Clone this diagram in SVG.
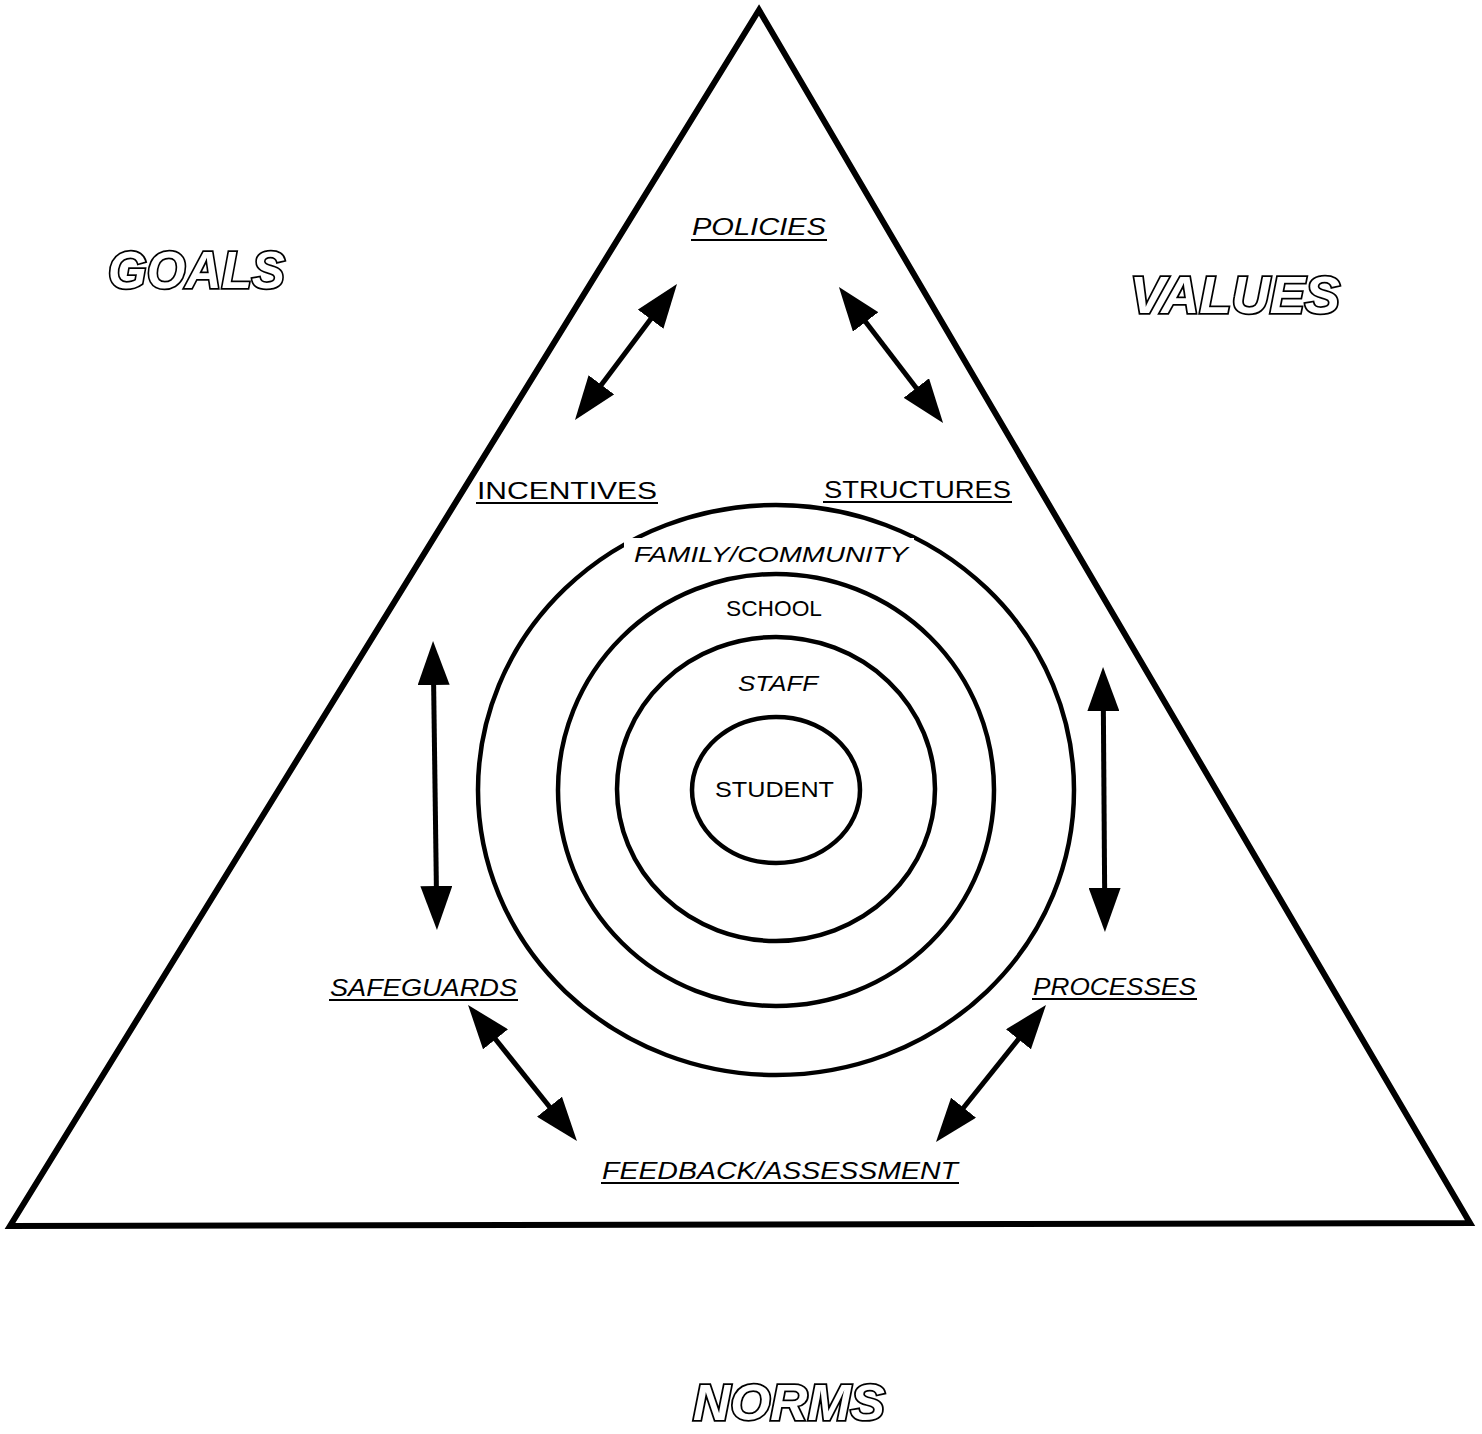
<svg xmlns="http://www.w3.org/2000/svg" width="1482" height="1434" viewBox="0 0 1482 1434">
<style>
.frame{fill:none;stroke:#000;stroke-width:6;stroke-linejoin:miter}
.ring{fill:none;stroke:#000;stroke-width:4.5}
.conn{stroke:#000;stroke-width:5;fill:none;marker-start:url(#head);marker-end:url(#head)}
.lbl{font-family:"Liberation Sans","DejaVu Sans",sans-serif;font-size:24px;fill:#000}
.slant{font-style:italic}
.ul{stroke:#000;stroke-width:2.2}
.big{font-family:"Liberation Sans","DejaVu Sans",sans-serif;font-size:52px;font-weight:bold;font-style:italic;fill:#fff;stroke:#000;stroke-width:3.5;paint-order:stroke}
.ring-lbl{font-family:"Liberation Sans","DejaVu Sans",sans-serif;font-size:22px;fill:#000}
</style>
<defs>
<marker id="head" markerUnits="userSpaceOnUse" markerWidth="46" markerHeight="32" viewBox="0 0 46 32" refX="10" refY="16" orient="auto-start-reverse">
<path d="M0,0 L44,16 L0,32 Z" fill="#000"/>
</marker>
</defs>
<rect width="1482" height="1434" fill="#fff"/>

<g id="triangle">
<path class="frame" d="M759,10 L1470,1223 L10,1226 Z"/>
</g>

<g id="outer-labels">
<text class="big" x="108" y="288" textLength="177" lengthAdjust="spacingAndGlyphs">GOALS</text>
<text class="big" x="1130" y="313" textLength="210" lengthAdjust="spacingAndGlyphs">VALUES</text>
<text class="big" x="693" y="1420" style="font-size:50px" textLength="192" lengthAdjust="spacingAndGlyphs">NORMS</text>
</g>

<g id="rings">
<ellipse class="ring" cx="776" cy="790" rx="298" ry="285"/>
<rect x="624" y="538" width="290" height="30" fill="#fff"/>
<ellipse class="ring" cx="776" cy="790" rx="218" ry="216"/>
<ellipse class="ring" cx="776" cy="789" rx="159" ry="152"/>
<ellipse class="ring" cx="776" cy="790" rx="84" ry="73"/>
</g>

<g id="node-family">
<text class="ring-lbl slant" x="634" y="562" textLength="274" lengthAdjust="spacingAndGlyphs">FAMILY/COMMUNITY</text>
</g>
<g id="node-school">
<text class="ring-lbl" x="726" y="616" textLength="96" lengthAdjust="spacingAndGlyphs">SCHOOL</text>
</g>
<g id="node-staff">
<text class="ring-lbl slant" x="738" y="691" textLength="80" lengthAdjust="spacingAndGlyphs">STAFF</text>
</g>
<g id="node-student">
<text class="ring-lbl" x="715" y="797" textLength="119" lengthAdjust="spacingAndGlyphs">STUDENT</text>
</g>

<g id="node-policies">
<text class="lbl slant" x="692" y="235" textLength="134" lengthAdjust="spacingAndGlyphs">POLICIES</text>
<line class="ul" x1="691" y1="240" x2="827" y2="240"/>
</g>
<g id="node-incentives">
<text class="lbl" x="477" y="499" textLength="180" lengthAdjust="spacingAndGlyphs">INCENTIVES</text>
<line class="ul" x1="476" y1="503" x2="658" y2="503"/>
</g>
<g id="node-structures">
<text class="lbl" x="824" y="498" textLength="187" lengthAdjust="spacingAndGlyphs">STRUCTURES</text>
<line class="ul" x1="823" y1="502" x2="1012" y2="502"/>
</g>
<g id="node-safeguards">
<text class="lbl slant" x="330" y="996" textLength="187" lengthAdjust="spacingAndGlyphs">SAFEGUARDS</text>
<line class="ul" x1="329" y1="1000" x2="518" y2="1000"/>
</g>
<g id="node-processes">
<text class="lbl slant" x="1033" y="995" textLength="163" lengthAdjust="spacingAndGlyphs">PROCESSES</text>
<line class="ul" x1="1032" y1="999" x2="1197" y2="999"/>
</g>
<g id="node-feedback">
<text class="lbl slant" x="602" y="1179" textLength="356" lengthAdjust="spacingAndGlyphs">FEEDBACK/ASSESSMENT</text>
<line class="ul" x1="601" y1="1183" x2="959" y2="1183"/>
</g>

<g id="connectors">
<line class="conn" x1="656.6" y1="311.2" x2="595.4" y2="392.8"/>
<line class="conn" x1="859.6" y1="314" x2="922.4" y2="396"/>
<line class="conn" x1="433.5" y1="675" x2="436.5" y2="896"/>
<line class="conn" x1="1103.3" y1="701" x2="1104.7" y2="898"/>
<line class="conn" x1="489.3" y1="1031.5" x2="555.7" y2="1114.5"/>
<line class="conn" x1="1024.7" y1="1031.5" x2="957.3" y2="1115.5"/>
</g>
</svg>
